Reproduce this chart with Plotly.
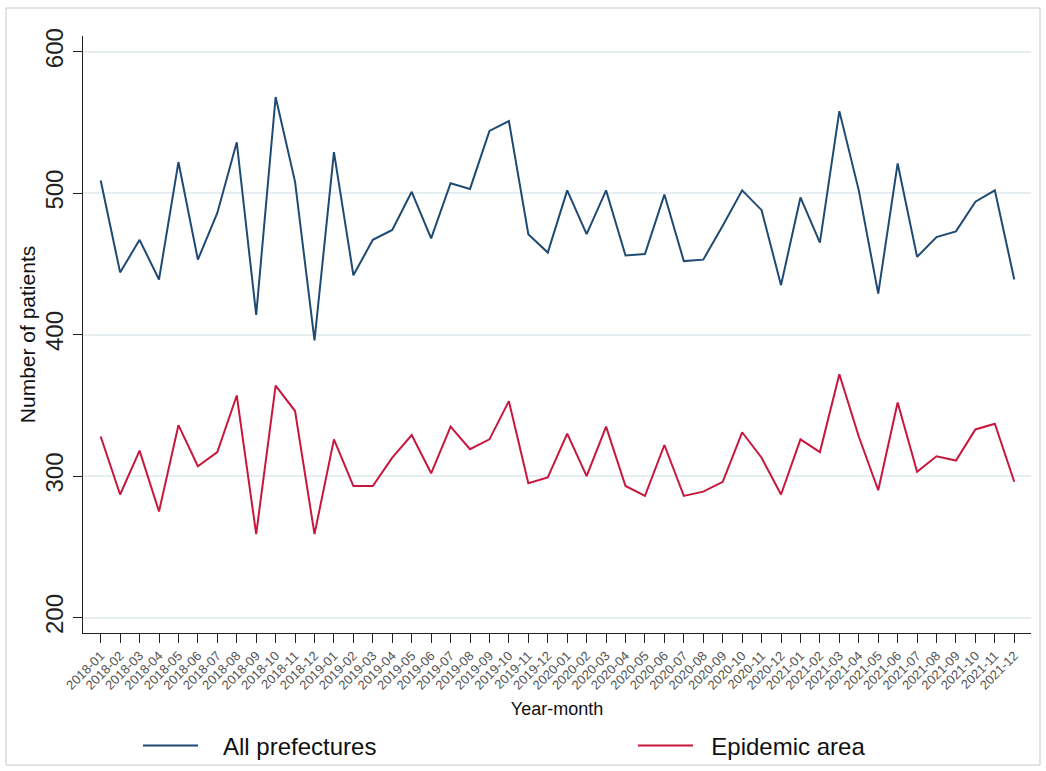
import plotly.graph_objects as go

# Monthly series, January 2018 to December 2021
months = [f"{y}-{m:02d}" for y in (2018, 2019, 2020, 2021) for m in range(1, 13)]

all_prefectures = [
    509, 444, 467, 439, 522, 453, 486, 536, 414, 568, 508, 396,
    529, 442, 467, 474, 501, 468, 507, 503, 544, 551, 471, 458,
    502, 471, 502, 456, 457, 499, 452, 453, 477, 502, 488, 435,
    497, 465, 558, 502, 429, 521, 455, 469, 473, 494, 502, 439,
]

epidemic_area = [
    328, 287, 318, 275, 336, 307, 317, 357, 259, 364, 346, 259,
    326, 293, 293, 313, 329, 302, 335, 319, 326, 353, 295, 299,
    330, 300, 335, 293, 286, 322, 286, 289, 296, 331, 313, 287,
    326, 317, 372, 328, 290, 352, 303, 314, 311, 333, 337, 296,
]

y_ticks = [200, 300, 400, 500, 600]

BLUE = "#1f4a73"
RED = "#c8173d"
GRID = "#e6eef1"
FONT = "Liberation Sans, Arial, sans-serif"
NBSP = "\u00a0"

idx = list(range(len(months)))

fig = go.Figure()
fig.add_trace(go.Scatter(
    x=idx, y=all_prefectures, mode="lines", name=NBSP * 3 + "All prefectures",
    line=dict(color=BLUE, width=2), legend="legend",
))
fig.add_trace(go.Scatter(
    x=idx, y=epidemic_area, mode="lines", name=NBSP * 2 + "Epidemic area",
    line=dict(color=RED, width=2), legend="legend2",
))

W, H = 1046, 771
ml, mr, mt, mb = 83, 15, 36, 138
pw, ph = W - ml - mr, H - mt - mb

def px_to_paper_x(px):
    return (px - ml) / pw

def px_to_paper_y(py):
    return (H - mb - py) / ph

# thin frame around the whole graphic
fig.add_shape(
    type="rect", xref="paper", yref="paper",
    x0=px_to_paper_x(6), x1=px_to_paper_x(1040),
    y0=px_to_paper_y(765), y1=px_to_paper_y(8),
    line=dict(color="#c8c8c8", width=1), fillcolor="rgba(0,0,0,0)",
    layer="below",
)

legend_style = dict(
    orientation="h", xanchor="left", yanchor="middle",
    xref="container", yref="container",
    y=1 - 746 / H,
    font=dict(size=24, family=FONT, color="#111"),
    itemwidth=55, bgcolor="rgba(0,0,0,0)",
)

fig.update_layout(
    width=W, height=H,
    margin=dict(l=ml, r=mr, t=mt, b=mb, pad=0, autoexpand=False),
    paper_bgcolor="white", plot_bgcolor="white",
    font=dict(family=FONT, color="#111"),
    showlegend=True,
    legend=dict(x=138 / W, **legend_style),
    legend2=dict(x=633 / W, **legend_style),
    xaxis=dict(
        range=[-0.91, 47.86], automargin=False,
        tickmode="array", tickvals=idx, ticktext=months,
        tickangle=-45, tickfont=dict(size=13, color="#555", family=FONT),
        ticks="outside", ticklen=9, tickcolor="#222", tickwidth=1,
        showline=True, linecolor="#222", linewidth=1,
        showgrid=False, zeroline=False,
        title=dict(text="Year-month", font=dict(size=18, color="#111"), standoff=10),
    ),
    yaxis=dict(
        range=[189.1, 611.1], automargin=False,
        tickmode="array", tickvals=y_ticks,
        tickangle=-90, tickfont=dict(size=24, color="#222", family=FONT),
        ticks="outside", ticklen=9, tickcolor="#222", tickwidth=1,
        showline=True, linecolor="#222", linewidth=1,
        showgrid=True, gridcolor=GRID, gridwidth=1.5,
        zeroline=False,
        title=dict(text="Number of patients", font=dict(size=21, color="#111"), standoff=0),
    ),
)

fig.write_html("out.html")
